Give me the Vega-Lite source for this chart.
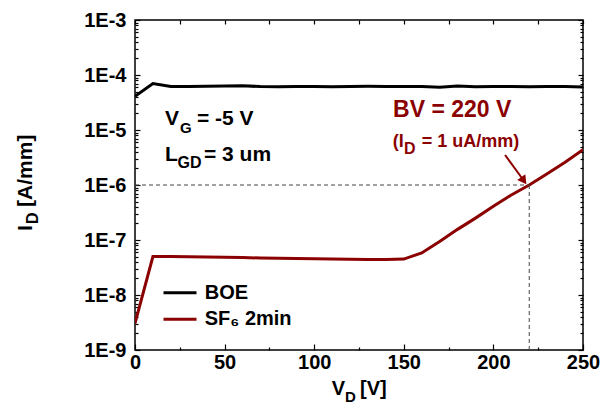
{
  "$schema": "https://vega.github.io/schema/vega-lite/v6.json",
  "width": 448,
  "height": 330,
  "autosize": "none",
  "padding": {"left": 135, "top": 20, "right": 27, "bottom": 55},
  "background": "white",
  "datasets": {
    "curves": [
      {"V": 0, "I": 4.1e-5, "series": "BOE"},
      {"V": 10, "I": 7.0e-5, "series": "BOE"},
      {"V": 20, "I": 6.2e-5, "series": "BOE"},
      {"V": 30, "I": 6.2e-5, "series": "BOE"},
      {"V": 40, "I": 6.25e-5, "series": "BOE"},
      {"V": 50, "I": 6.3e-5, "series": "BOE"},
      {"V": 60, "I": 6.4e-5, "series": "BOE"},
      {"V": 70, "I": 6.15e-5, "series": "BOE"},
      {"V": 80, "I": 6.1e-5, "series": "BOE"},
      {"V": 90, "I": 6.15e-5, "series": "BOE"},
      {"V": 100, "I": 6.2e-5, "series": "BOE"},
      {"V": 110, "I": 6.1e-5, "series": "BOE"},
      {"V": 120, "I": 6.2e-5, "series": "BOE"},
      {"V": 130, "I": 6.25e-5, "series": "BOE"},
      {"V": 140, "I": 6.2e-5, "series": "BOE"},
      {"V": 150, "I": 6.2e-5, "series": "BOE"},
      {"V": 160, "I": 6.15e-5, "series": "BOE"},
      {"V": 170, "I": 6.0e-5, "series": "BOE"},
      {"V": 180, "I": 6.3e-5, "series": "BOE"},
      {"V": 190, "I": 6.1e-5, "series": "BOE"},
      {"V": 200, "I": 6.2e-5, "series": "BOE"},
      {"V": 210, "I": 6.2e-5, "series": "BOE"},
      {"V": 220, "I": 6.1e-5, "series": "BOE"},
      {"V": 230, "I": 6.2e-5, "series": "BOE"},
      {"V": 240, "I": 6.2e-5, "series": "BOE"},
      {"V": 250, "I": 6.05e-5, "series": "BOE"},
      {"V": 0, "I": 3.05e-9, "series": "SF₆ 2min"},
      {"V": 10, "I": 5.0e-8, "series": "SF₆ 2min"},
      {"V": 20, "I": 5.0e-8, "series": "SF₆ 2min"},
      {"V": 30, "I": 4.95e-8, "series": "SF₆ 2min"},
      {"V": 40, "I": 4.9e-8, "series": "SF₆ 2min"},
      {"V": 50, "I": 4.85e-8, "series": "SF₆ 2min"},
      {"V": 60, "I": 4.8e-8, "series": "SF₆ 2min"},
      {"V": 70, "I": 4.7e-8, "series": "SF₆ 2min"},
      {"V": 80, "I": 4.65e-8, "series": "SF₆ 2min"},
      {"V": 90, "I": 4.6e-8, "series": "SF₆ 2min"},
      {"V": 100, "I": 4.55e-8, "series": "SF₆ 2min"},
      {"V": 110, "I": 4.5e-8, "series": "SF₆ 2min"},
      {"V": 120, "I": 4.45e-8, "series": "SF₆ 2min"},
      {"V": 130, "I": 4.4e-8, "series": "SF₆ 2min"},
      {"V": 140, "I": 4.4e-8, "series": "SF₆ 2min"},
      {"V": 150, "I": 4.5e-8, "series": "SF₆ 2min"},
      {"V": 160, "I": 5.8e-8, "series": "SF₆ 2min"},
      {"V": 170, "I": 9.4e-8, "series": "SF₆ 2min"},
      {"V": 180, "I": 1.56e-7, "series": "SF₆ 2min"},
      {"V": 190, "I": 2.5e-7, "series": "SF₆ 2min"},
      {"V": 200, "I": 4.1e-7, "series": "SF₆ 2min"},
      {"V": 210, "I": 6.6e-7, "series": "SF₆ 2min"},
      {"V": 220, "I": 1.0e-6, "series": "SF₆ 2min"},
      {"V": 230, "I": 1.6e-6, "series": "SF₆ 2min"},
      {"V": 240, "I": 2.6e-6, "series": "SF₆ 2min"},
      {"V": 250, "I": 4.4e-6, "series": "SF₆ 2min"}
    ]
  },
  "layer": [
    {
      "data": {"name": "curves"},
      "mark": {"type": "line", "strokeWidth": 3, "strokeJoin": "miter", "clip": true},
      "encoding": {
        "x": {"field": "V", "type": "quantitative",
          "scale": {"domain": [0, 250], "nice": false, "zero": false},
          "axis": {"orient": "bottom", "values": [0, 50, 100, 150, 200, 250], "tickSize": -6, "labelPadding": 8, "labelFlush": false, "title": null}},
        "y": {"field": "I", "type": "quantitative",
          "scale": {"type": "log", "domain": [1e-9, 1e-3], "nice": false},
          "axis": {"orient": "left", "values": [1e-9, 1e-8, 1e-7, 1e-6, 1e-5, 1e-4, 1e-3], "tickSize": -5, "labelPadding": 14, "labelExpr": "'1E' + round(log(datum.value) / LN10)", "title": null}},
        "color": {"field": "series", "type": "nominal",
          "scale": {"domain": ["BOE", "SF₆ 2min"], "range": ["#000000", "#8B0000"]},
          "legend": {"orient": "none", "legendX": 27, "legendY": 262.7, "title": null, "symbolType": "stroke", "symbolSize": 1089, "symbolStrokeWidth": 3, "clipHeight": 20, "rowPadding": 6.6, "labelOffset": 6.7, "padding": 0, "labelFont": "Liberation Sans", "labelFontWeight": "bold", "labelFontSize": 20, "labelColor": "#000000"}}
      }
    },
    {
      "data": {"values": [{"x0": 0, "x1": 220, "y": 1e-6}]},
      "mark": {"type": "rule", "color": "#444444", "strokeWidth": 1, "strokeDash": [4, 3]},
      "encoding": {
        "x": {"field": "x0", "type": "quantitative",
          "axis": {"orient": "bottom", "values": [25, 75, 125, 175, 225], "tickSize": -3, "labels": false, "title": null}},
        "x2": {"field": "x1"},
        "y": {"field": "y", "type": "quantitative",
          "axis": {"orient": "left", "values": [2e-9,3e-9,4e-9,5e-9,6e-9,7e-9,8e-9,9e-9,2e-8,3e-8,4e-8,5e-8,6e-8,7e-8,8e-8,9e-8,2e-7,3e-7,4e-7,5e-7,6e-7,7e-7,8e-7,9e-7,2e-6,3e-6,4e-6,5e-6,6e-6,7e-6,8e-6,9e-6,2e-5,3e-5,4e-5,5e-5,6e-5,7e-5,8e-5,9e-5,2e-4,3e-4,4e-4,5e-4,6e-4,7e-4,8e-4,9e-4], "tickSize": -3, "labels": false, "title": null}}
      }
    },
    {
      "data": {"values": [{"x": 220, "y0": 1e-9, "y1": 1e-6}]},
      "mark": {"type": "rule", "color": "#444444", "strokeWidth": 1, "strokeDash": [4, 3]},
      "encoding": {
        "x": {"field": "x", "type": "quantitative",
          "axis": {"orient": "top", "values": [0, 25, 50, 75, 100, 125, 150, 175, 200, 225, 250], "tickSize": -4, "labels": false, "title": null}},
        "y": {"field": "y0", "type": "quantitative",
          "axis": {"orient": "right", "values": [1e-9, 1e-8, 1e-7, 1e-6, 1e-5, 1e-4, 1e-3], "tickSize": -5, "labels": false, "title": null}},
        "y2": {"field": "y1"}
      }
    },
    {
      "data": {"values": [{"x0": 206.5, "y0": 3.51e-6, "x1": 216.5, "y1": 1.26e-6}]},
      "mark": {"type": "rule", "color": "#8B0000", "strokeWidth": 2},
      "encoding": {
        "x": {"field": "x0", "type": "quantitative", "axis": null},
        "y": {"field": "y0", "type": "quantitative",
          "axis": {"orient": "right", "values": [2e-9,3e-9,4e-9,5e-9,6e-9,7e-9,8e-9,9e-9,2e-8,3e-8,4e-8,5e-8,6e-8,7e-8,8e-8,9e-8,2e-7,3e-7,4e-7,5e-7,6e-7,7e-7,8e-7,9e-7,2e-6,3e-6,4e-6,5e-6,6e-6,7e-6,8e-6,9e-6,2e-5,3e-5,4e-5,5e-5,6e-5,7e-5,8e-5,9e-5,2e-4,3e-4,4e-4,5e-4,6e-4,7e-4,8e-4,9e-4], "tickSize": -3, "labels": false, "title": null}},
        "x2": {"field": "x1"},
        "y2": {"field": "y1"}
      }
    },
    {
      "data": {"values": [{"x": 216.5, "y": 1.26e-6}]},
      "mark": {"type": "point", "shape": "triangle", "filled": true, "color": "#8B0000", "size": 100, "angle": 144, "opacity": 1},
      "encoding": {
        "x": {"field": "x", "type": "quantitative", "axis": null},
        "y": {"field": "y", "type": "quantitative", "axis": null}
      }
    },
    {
      "data": {"values": [{"label": "BV = 220 V"}]},
      "mark": {"type": "text", "font": "Liberation Sans", "fontWeight": "bold", "fontSize": 23, "color": "#8B0000", "align": "center", "baseline": "alphabetic"},
      "encoding": {
        "x": {"datum": 177, "type": "quantitative", "axis": null},
        "y": {"datum": 1.72e-5, "type": "quantitative", "axis": null},
        "text": {"field": "label"}
      }
    },
    {
      "data": {"values": [{"label": "(I"}]},
      "mark": {"type": "text", "font": "Liberation Sans", "fontWeight": "bold", "fontSize": 18, "color": "#8B0000", "align": "left", "baseline": "alphabetic"},
      "encoding": {
        "x": {"datum": 143.8, "type": "quantitative", "axis": null},
        "y": {"datum": 4.97e-6, "type": "quantitative", "axis": null},
        "text": {"field": "label"}
      }
    },
    {
      "data": {"values": [{"label": "D"}]},
      "mark": {"type": "text", "font": "Liberation Sans", "fontWeight": "bold", "fontSize": 16, "color": "#8B0000", "align": "left", "baseline": "alphabetic"},
      "encoding": {
        "x": {"datum": 150.1, "type": "quantitative", "axis": null},
        "y": {"datum": 3.66e-6, "type": "quantitative", "axis": null},
        "text": {"field": "label"}
      }
    },
    {
      "data": {"values": [{"label": "= 1 uA/mm)"}]},
      "mark": {"type": "text", "font": "Liberation Sans", "fontWeight": "bold", "fontSize": 18, "color": "#8B0000", "align": "left", "baseline": "alphabetic"},
      "encoding": {
        "x": {"datum": 160.0, "type": "quantitative", "axis": null},
        "y": {"datum": 4.97e-6, "type": "quantitative", "axis": null},
        "text": {"field": "label"}
      }
    },
    {
      "data": {"values": [{"label": "V"}]},
      "mark": {"type": "text", "font": "Liberation Sans", "fontWeight": "bold", "fontSize": 21, "color": "#000000", "align": "left", "baseline": "alphabetic"},
      "encoding": {
        "x": {"datum": 16.7, "type": "quantitative", "axis": null},
        "y": {"datum": 1.233e-5, "type": "quantitative", "axis": null},
        "text": {"field": "label"}
      }
    },
    {
      "data": {"values": [{"label": "G"}]},
      "mark": {"type": "text", "font": "Liberation Sans", "fontWeight": "bold", "fontSize": 15, "color": "#000000", "align": "left", "baseline": "alphabetic"},
      "encoding": {
        "x": {"datum": 25.1, "type": "quantitative", "axis": null},
        "y": {"datum": 8.81e-6, "type": "quantitative", "axis": null},
        "text": {"field": "label"}
      }
    },
    {
      "data": {"values": [{"label": "= -5 V"}]},
      "mark": {"type": "text", "font": "Liberation Sans", "fontWeight": "bold", "fontSize": 21, "color": "#000000", "align": "left", "baseline": "alphabetic"},
      "encoding": {
        "x": {"datum": 34.6, "type": "quantitative", "axis": null},
        "y": {"datum": 1.233e-5, "type": "quantitative", "axis": null},
        "text": {"field": "label"}
      }
    },
    {
      "data": {"values": [{"label": "L"}]},
      "mark": {"type": "text", "font": "Liberation Sans", "fontWeight": "bold", "fontSize": 21, "color": "#000000", "align": "left", "baseline": "alphabetic"},
      "encoding": {
        "x": {"datum": 16.7, "type": "quantitative", "axis": null},
        "y": {"datum": 2.73e-6, "type": "quantitative", "axis": null},
        "text": {"field": "label"}
      }
    },
    {
      "data": {"values": [{"label": "GD"}]},
      "mark": {"type": "text", "font": "Liberation Sans", "fontWeight": "bold", "fontSize": 16, "color": "#000000", "align": "left", "baseline": "alphabetic"},
      "encoding": {
        "x": {"datum": 23.7, "type": "quantitative", "axis": null},
        "y": {"datum": 2.04e-6, "type": "quantitative", "axis": null},
        "text": {"field": "label"}
      }
    },
    {
      "data": {"values": [{"label": "= 3 um"}]},
      "mark": {"type": "text", "font": "Liberation Sans", "fontWeight": "bold", "fontSize": 21, "color": "#000000", "align": "left", "baseline": "alphabetic"},
      "encoding": {
        "x": {"datum": 38.5, "type": "quantitative", "axis": null},
        "y": {"datum": 2.73e-6, "type": "quantitative", "axis": null},
        "text": {"field": "label"}
      }
    },
    {
      "data": {"values": [{"label": "V"}]},
      "mark": {"type": "text", "font": "Liberation Sans", "fontWeight": "bold", "fontSize": 20, "color": "#000000", "align": "left", "baseline": "alphabetic"},
      "encoding": {
        "x": {"datum": 109.8, "type": "quantitative", "axis": null},
        "y": {"datum": 1.5e-10, "type": "quantitative", "axis": null},
        "text": {"field": "label"}
      }
    },
    {
      "data": {"values": [{"label": "D"}]},
      "mark": {"type": "text", "font": "Liberation Sans", "fontWeight": "bold", "fontSize": 15, "color": "#000000", "align": "left", "baseline": "alphabetic"},
      "encoding": {
        "x": {"datum": 117.2, "type": "quantitative", "axis": null},
        "y": {"datum": 1.13e-10, "type": "quantitative", "axis": null},
        "text": {"field": "label"}
      }
    },
    {
      "data": {"values": [{"label": "[V]"}]},
      "mark": {"type": "text", "font": "Liberation Sans", "fontWeight": "bold", "fontSize": 20, "color": "#000000", "align": "left", "baseline": "alphabetic"},
      "encoding": {
        "x": {"datum": 125.6, "type": "quantitative", "axis": null},
        "y": {"datum": 1.5e-10, "type": "quantitative", "axis": null},
        "text": {"field": "label"}
      }
    },
    {
      "data": {"values": [{"label": "I"}]},
      "mark": {"type": "text", "font": "Liberation Sans", "fontWeight": "bold", "fontSize": 21, "color": "#000000", "align": "left", "baseline": "alphabetic", "angle": 270},
      "encoding": {
        "x": {"datum": -57.6, "type": "quantitative", "axis": null},
        "y": {"datum": 1.45e-7, "type": "quantitative", "axis": null},
        "text": {"field": "label"}
      }
    },
    {
      "data": {"values": [{"label": "D"}]},
      "mark": {"type": "text", "font": "Liberation Sans", "fontWeight": "bold", "fontSize": 16, "color": "#000000", "align": "left", "baseline": "alphabetic", "angle": 270},
      "encoding": {
        "x": {"datum": -54.1, "type": "quantitative", "axis": null},
        "y": {"datum": 1.95e-7, "type": "quantitative", "axis": null},
        "text": {"field": "label"}
      }
    },
    {
      "data": {"values": [{"label": "[A/mm]"}]},
      "mark": {"type": "text", "font": "Liberation Sans", "fontWeight": "bold", "fontSize": 21, "color": "#000000", "align": "left", "baseline": "alphabetic", "angle": 270},
      "encoding": {
        "x": {"datum": -57.6, "type": "quantitative", "axis": null},
        "y": {"datum": 4.0e-7, "type": "quantitative", "axis": null},
        "text": {"field": "label"}
      }
    }
  ],
  "resolve": {"axis": {"x": "independent", "y": "independent"}},
  "config": {
    "view": {"stroke": "#000000", "strokeWidth": 1.5},
    "axis": {
      "domain": false,
      "grid": false,
      "ticks": true,
      "tickColor": "#000000",
      "tickWidth": 1.2,
      "labelFont": "Liberation Sans",
      "labelFontWeight": "bold",
      "labelFontSize": 20,
      "labelColor": "#000000",
      "labelOverlap": false
    }
  }
}
